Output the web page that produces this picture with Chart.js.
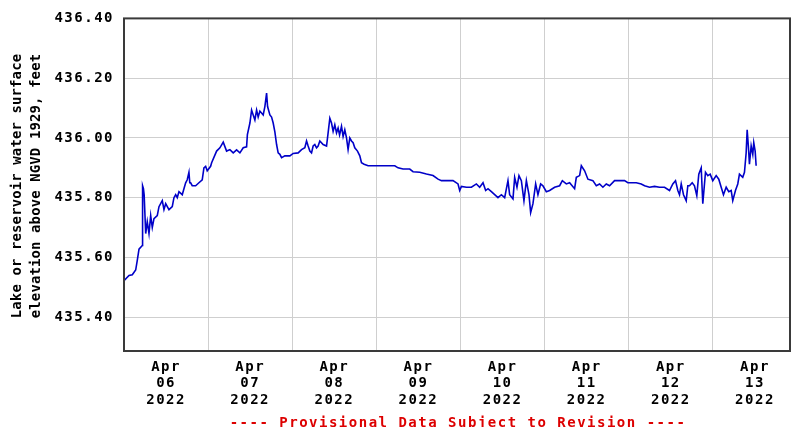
<!DOCTYPE html>
<html>
<head>
<meta charset="utf-8">
<script src="https://cdn.jsdelivr.net/npm/chart.js@4/dist/chart.umd.min.js"></script>
<style>
  html, body { margin: 0; padding: 0; background: #ffffff; }
  canvas { display: block; }
</style>
</head>
<body>
<canvas id="chart" width="791" height="427"></canvas>
<script>
// Lake / reservoir water-surface elevation, Apr 06 – Apr 13 2022.
// Time is hours since 2022-04-06 00:00; elevation in feet above NGVD 1929.
const hoursSinceApr06 = [
  0, 1.43, 2.37, 3.33, 3.79, 4.28, 5.22, 5.30, 5.55, 5.75, 6.19, 6.64, 7.13, 7.61, 8.07, 8.55,
  9.49, 9.98, 10.92, 11.40, 11.89, 12.83, 13.77, 14.25, 14.74, 15.19, 15.68, 16.62, 17.10, 17.59,
  18.04, 18.53, 18.76, 19.01, 19.47, 20.44, 21.38, 22.32, 22.80, 23.29, 23.74, 24.71, 25.00, 26.42,
  27.36, 28.31, 29.27, 30.21, 31.16, 32.12, 33.06, 34.01, 34.97, 35.20, 35.92, 36.40, 36.86, 37.34,
  37.83, 38.28, 38.77, 39.71, 40.19, 40.68, 40.96, 41.62, 42.10, 42.56, 43.04, 43.53, 43.98, 44.47,
  44.95, 45.89, 47.32, 48.26, 49.68, 50.65, 51.59, 52.08, 52.53, 53.02, 53.50, 53.96, 54.44, 54.93,
  55.38, 55.87, 56.81, 57.78, 58.23, 58.72, 59.20, 59.66, 60.14, 60.63, 61.08, 61.50, 62.05, 62.51, 62.99,
  63.48, 63.93, 64.42, 64.90, 65.36, 65.84, 66.61, 67.27, 67.75, 68.50, 69.64, 72.97, 77.25, 78.19,
  79.61, 81.52, 82.46, 84.37, 86.28, 88.16, 89.59, 90.56, 91.98, 93.86, 95.29, 95.77, 96.26, 97.68,
  99.11, 100.53, 101.47, 102.42, 103.18, 103.84, 104.81, 105.75, 106.69, 107.66, 108.60, 109.54, 110.02, 110.97,
  111.45, 112.11, 112.68, 113.36, 114.10, 114.79, 115.53, 116.01, 116.67, 117.44, 118.09, 118.86, 119.52, 120.49,
  121.43, 122.85, 124.28, 125.05, 126.19, 127.13, 128.55, 129.04, 129.98, 130.47, 131.41, 132.35, 133.77, 134.74,
  135.68, 136.62, 137.59, 138.53, 139.95, 141.38, 142.80, 143.74, 144.71, 146.14, 147.56, 148.51, 149.93, 151.36,
  152.78, 154.21, 155.63, 156.57, 157.34, 158.00, 158.48, 158.97, 159.62, 160.39, 160.85, 161.33, 162.10, 162.75,
  163.41, 163.98, 164.67, 165.12, 165.89, 166.55, 167.23, 167.97, 168.94, 169.68, 170.37, 171.02, 171.79, 172.53,
  173.22, 173.67, 174.44, 175.10, 175.58, 176.52, 177.01, 177.49, 177.78, 178.15, 178.43, 178.92, 179.38, 179.66,
  180.06, 180.34
];
const elevationFt = [
  435.522, 435.540, 435.542, 435.558, 435.590, 435.628, 435.640, 435.840, 435.830, 435.810, 435.680, 435.720, 435.680, 435.740, 435.700, 435.730,
  435.740, 435.770, 435.790, 435.760, 435.780, 435.760, 435.770, 435.800, 435.810, 435.800, 435.820, 435.810, 435.830, 435.850,
  435.860, 435.885, 435.850, 435.850, 435.840, 435.840, 435.850, 435.860, 435.900, 435.905, 435.890, 435.905, 435.917, 435.956,
  435.967, 435.986, 435.956, 435.961, 435.950, 435.960, 435.950, 435.967, 435.970, 436.011, 436.050, 436.093, 436.077, 436.060,
  436.093, 436.070, 436.090, 436.077, 436.105, 436.150, 436.105, 436.077, 436.070, 436.050, 436.020, 435.978, 435.950, 435.945,
  435.934, 435.940, 435.940, 435.948, 435.950, 435.961, 435.967, 435.990, 435.973, 435.956, 435.950, 435.973, 435.978, 435.967,
  435.973, 435.990, 435.978, 435.973, 436.017, 436.066, 436.050, 436.022, 436.044, 436.017, 436.033, 436.010, 436.039, 436.005, 436.027,
  436.000, 435.961, 436.000, 435.990, 435.984, 435.967, 435.956, 435.940, 435.917, 435.912, 435.907, 435.907, 435.907, 435.900,
  435.896, 435.896, 435.887, 435.885, 435.879, 435.874, 435.862, 435.857, 435.857, 435.857, 435.846, 435.824, 435.838, 435.835,
  435.835, 435.846, 435.835, 435.850, 435.824, 435.830, 435.820, 435.810, 435.800, 435.810, 435.800, 435.857, 435.810, 435.796,
  435.868, 435.835, 435.874, 435.857, 435.790, 435.857, 435.810, 435.750, 435.780, 435.846, 435.810, 435.846, 435.840, 435.820,
  435.824, 435.835, 435.840, 435.857, 435.846, 435.850, 435.830, 435.868, 435.874, 435.907, 435.890, 435.862, 435.857, 435.840,
  435.846, 435.835, 435.846, 435.840, 435.857, 435.857, 435.857, 435.850, 435.850, 435.850, 435.846, 435.840, 435.835, 435.838,
  435.835, 435.835, 435.824, 435.846, 435.857, 435.824, 435.810, 435.846, 435.810, 435.790, 435.840, 435.840, 435.850, 435.840,
  435.807, 435.879, 435.900, 435.780, 435.885, 435.874, 435.879, 435.857, 435.874, 435.862, 435.835, 435.810, 435.835, 435.820,
  435.824, 435.790, 435.824, 435.846, 435.879, 435.868, 435.885, 435.950, 436.027, 435.967, 435.912, 435.973, 435.945, 435.984,
  435.956, 435.907
];

// Axis ticks
const elevationTicks = [435.40, 435.60, 435.80, 436.00, 436.20, 436.40];
const dayLabels = ['06', '07', '08', '09', '10', '11', '12', '13'];
const monthLabel = 'Apr';
const yearLabel = '2022';
const yAxisTitle = ['Lake or reservoir water surface', 'elevation above NGVD 1929, feet'];
const footerText = '---- Provisional Data Subject to Revision ----';

const FONT = '"DejaVu Sans Mono", "Liberation Mono", monospace';

// Midnight gridlines every 24 h, date labels at noon of each day
const xTickValues = [];
for (let h = 0; h <= 180; h += 12) xTickValues.push(h);

const points = hoursSinceApr06.map((h, i) => ({ x: h, y: elevationFt[i] }));

const wideText = {
  id: 'wideText',
  beforeUpdate(chart) { chart.ctx.letterSpacing = '1.5px'; },
  beforeDraw(chart) { chart.ctx.letterSpacing = '1.5px'; }
};

const frameAndNotes = {
  id: 'frameAndNotes',
  afterDraw(chart) {
    const { ctx, chartArea: a } = chart;
    ctx.save();
    ctx.strokeStyle = '#3a3a3a';
    ctx.lineWidth = 2;
    ctx.strokeRect(a.left, a.top, a.right - a.left, a.bottom - a.top);

    // rotated y-axis title, two lines
    ctx.letterSpacing = '0.1px';
    ctx.font = 'bold 14px ' + FONT;
    ctx.fillStyle = '#000000';
    ctx.textAlign = 'center';
    ctx.textBaseline = 'middle';
    ctx.translate(17, 186);
    ctx.rotate(-Math.PI / 2);
    ctx.fillText(yAxisTitle[0], 0, 0);
    ctx.fillText(yAxisTitle[1], 0, 19);
    ctx.restore();

    // provisional-data footer
    ctx.save();
    ctx.letterSpacing = '1.5px';
    ctx.font = 'bold 14px ' + FONT;
    ctx.fillStyle = '#dd0000';
    ctx.textAlign = 'center';
    ctx.textBaseline = 'alphabetic';
    ctx.fillText(footerText, (a.left + a.right) / 2 + 1, 427);
    ctx.restore();
  }
};

new Chart(document.getElementById('chart'), {
  type: 'line',
  data: {
    datasets: [{
      data: points,
      borderColor: '#0000c8',
      borderWidth: 1.6,
      pointRadius: 0,
      tension: 0,
      fill: false
    }]
  },
  options: {
    responsive: false,
    animation: false,
    devicePixelRatio: 1,
    layout: { padding: { top: 12, right: 1, bottom: 0, left: 0 } },
    plugins: {
      legend: { display: false },
      tooltip: { enabled: false }
    },
    scales: {
      x: {
        type: 'linear',
        min: 0,
        max: 190,
        afterBuildTicks(scale) { scale.ticks = xTickValues.map(v => ({ value: v })); },
        afterFit(scale) { scale.height = 76; },
        grid: {
          drawTicks: false,
          lineWidth: 1,
          color: (c) => (c.tick && c.tick.value % 24 === 0 && c.tick.value > 0) ? '#cfcfcf' : 'rgba(0,0,0,0)'
        },
        border: { display: false },
        ticks: {
          autoSkip: false,
          maxRotation: 0,
          minRotation: 0,
          padding: 8,
          color: '#000000',
          font: { family: FONT, size: 14, weight: 'bold', lineHeight: 1.17 },
          callback: (v) => {
            if (v % 24 !== 12) return '';
            const d = dayLabels[Math.floor(v / 24)];
            return [monthLabel, d, yearLabel];
          }
        }
      },
      y: {
        type: 'linear',
        min: 435.287,
        max: 436.40,
        afterBuildTicks(scale) { scale.ticks = elevationTicks.map(v => ({ value: v })); },
        afterFit(scale) { scale.width = 124; },
        grid: {
          drawTicks: false,
          lineWidth: 1,
          color: '#cfcfcf'
        },
        border: { display: false },
        ticks: {
          padding: 10,
          color: '#000000',
          font: { family: FONT, size: 14, weight: 'bold' },
          callback: (v) => Number(v).toFixed(2)
        }
      }
    }
  },
  plugins: [wideText, frameAndNotes]
});
</script>
</body>
</html>
